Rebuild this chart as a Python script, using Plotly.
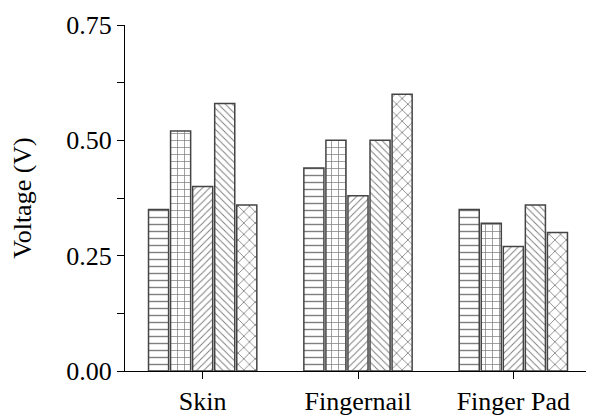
import plotly.graph_objects as go

categories = ["Skin", "Fingernail", "Finger Pad"]
series_values = [
    [0.35, 0.44, 0.35],
    [0.52, 0.50, 0.32],
    [0.40, 0.38, 0.27],
    [0.58, 0.50, 0.36],
    [0.36, 0.60, 0.30],
]
patterns = ["-", "+", "/", "\\", "x"]
pattern_sizes = [7, 7, 5, 5, 8]
y_ticks = [0.0, 0.25, 0.50, 0.75]
y_tick_labels = ["0.00", "0.25", "0.50", "0.75"]

fig = go.Figure()
for vals, pat, ps in zip(series_values, patterns, pattern_sizes):
    fig.add_trace(go.Bar(
        x=categories, y=vals,
        marker=dict(
            color="white",
            line=dict(color="#444444", width=1.5),
            pattern=dict(shape=pat, fgcolor="black", bgcolor="white", size=ps, solidity=0.2),
        ),
        showlegend=False,
    ))

font = dict(family="Liberation Serif, Times New Roman, serif", size=26, color="black")
fig.update_layout(
    width=594, height=417,
    margin=dict(l=117, r=11, t=17, b=54, autoexpand=False),
    paper_bgcolor="white", plot_bgcolor="white",
    barmode="group", bargap=0.29, bargroupgap=0.09,
    font=font,
    xaxis=dict(
        range=[-0.5, 2.5], showline=True, linecolor="black", linewidth=1,
        ticks="outside", ticklen=7, tickcolor="black", tickfont=font,
        showgrid=False, zeroline=False, automargin=False,
    ),
    yaxis=dict(
        range=[0, 0.75], showline=True, linecolor="black", linewidth=1,
        tickvals=y_ticks, ticktext=y_tick_labels,
        ticks="outside", ticklen=7, tickcolor="black", tickfont=font,
        minor=dict(tickvals=[0.125, 0.375, 0.625], ticks="outside", ticklen=7, tickcolor="black"),
        showgrid=False, zeroline=False, automargin=False,
        title=dict(text="Voltage (V)", font=font, standoff=28),
    ),
)
fig.write_html("out.html")
